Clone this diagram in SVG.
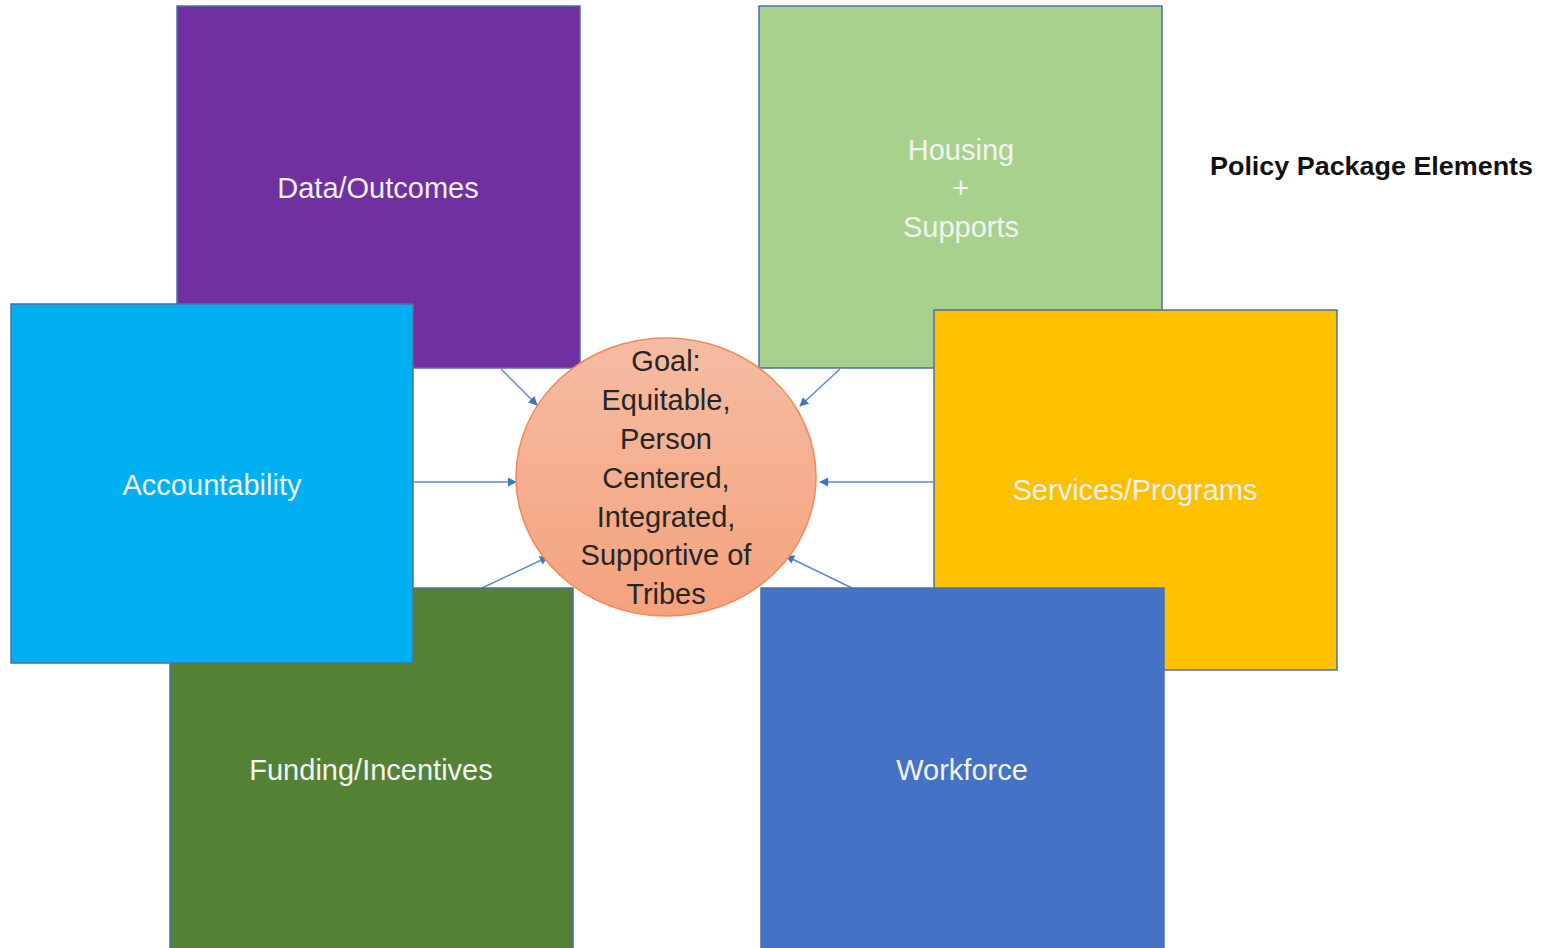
<svg xmlns="http://www.w3.org/2000/svg" width="1547" height="948" viewBox="0 0 1547 948">
<style>
.box{stroke:#4A72A8;stroke-width:1.5}
.lbl{font-family:"Liberation Sans",Arial,sans-serif;font-size:29px;fill:#F2F2F2;text-anchor:middle;dominant-baseline:central}
.goal{font-family:"Liberation Sans",Arial,sans-serif;font-size:29px;fill:#262626;text-anchor:middle;dominant-baseline:central}
.title{font-family:"Liberation Sans",Arial,sans-serif;font-size:26px;font-weight:bold;fill:#111;dominant-baseline:central}
.con{stroke:#5B87D3;stroke-width:1.4;fill:none;marker-end:url(#arr)}
</style>
<defs>
<marker id="arr" viewBox="0 0 10 10" refX="9" refY="5" markerWidth="10" markerHeight="9" orient="auto" markerUnits="userSpaceOnUse">
<path d="M0,0 L10,5 L0,10 z" fill="#4472C4"/>
</marker>
<linearGradient id="gg" x1="0" y1="0" x2="0" y2="1">
<stop offset="0" stop-color="#F5BCA3"/>
<stop offset="1" stop-color="#F4A27C"/>
</linearGradient>
</defs>
<rect width="1547" height="948" fill="#FFFFFF"/>
<g id="connectors">
<line class="con" x1="501" y1="369" x2="537" y2="405"/>
<line class="con" x1="840" y1="369" x2="800" y2="406"/>
<line class="con" x1="414" y1="482" x2="516" y2="482"/>
<line class="con" x1="933" y1="482" x2="820" y2="482"/>
<line class="con" x1="482" y1="588" x2="548" y2="557"/>
<line class="con" x1="852" y1="588" x2="786" y2="556"/>
</g>
<g id="data-outcomes">
<rect class="box" x="177" y="6" width="403" height="362" fill="#7030A0"/>
<text class="lbl" x="378" y="188" fill="#E9DFF1">Data/Outcomes</text>
</g>
<g id="housing-supports">
<rect class="box" x="759" y="6" width="403" height="362" fill="#A9D18E"/>
<text class="lbl" x="961" y="150">Housing</text>
<text class="lbl" x="961" y="188">+</text>
<text class="lbl" x="961" y="227">Supports</text>
</g>
<g id="funding-incentives">
<rect class="box" x="170" y="588" width="403" height="365" fill="#548235"/>
<text class="lbl" x="371" y="770">Funding/Incentives</text>
</g>
<g id="accountability">
<rect class="box" x="11" y="304" width="402" height="359" fill="#00B0F0"/>
<text class="lbl" x="212" y="485">Accountability</text>
</g>
<g id="services-programs">
<rect class="box" x="934" y="310" width="403" height="360" fill="#FFC000"/>
<text class="lbl" x="1135" y="490">Services/Programs</text>
</g>
<g id="workforce">
<rect class="box" x="761" y="588" width="403" height="365" fill="#4472C4"/>
<text class="lbl" x="962" y="770">Workforce</text>
</g>
<g id="goal">
<ellipse cx="666" cy="477" rx="150" ry="139" fill="url(#gg)" stroke="#F08A5D" stroke-width="1.5"/>
<text class="goal" x="666" y="361">Goal:</text>
<text class="goal" x="666" y="400">Equitable,</text>
<text class="goal" x="666" y="439">Person</text>
<text class="goal" x="666" y="478">Centered,</text>
<text class="goal" x="666" y="517">Integrated,</text>
<text class="goal" x="666" y="555">Supportive of</text>
<text class="goal" x="666" y="594">Tribes</text>
</g>
<g id="title">
<text class="title" x="1210" y="166" textLength="323" lengthAdjust="spacingAndGlyphs">Policy Package Elements</text>
</g>
</svg>
